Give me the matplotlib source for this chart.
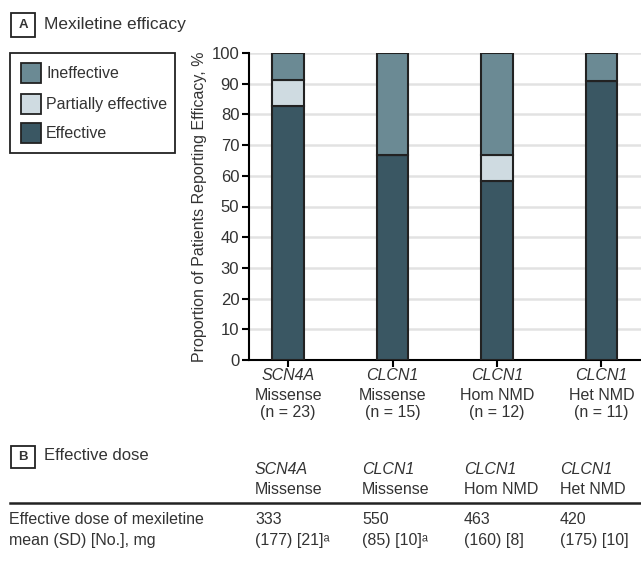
import matplotlib
matplotlib.use('Agg')
import matplotlib.pyplot as plt
from matplotlib.patches import Rectangle

plt.rcParams['font.family'] = ['Liberation Sans', 'DejaVu Sans']

# Data
genes = ['SCN4A', 'CLCN1', 'CLCN1', 'CLCN1']
groups = ['Missense', 'Missense', 'Hom NMD', 'Het NMD']
n_pat = [23, 15, 12, 11]
effective = [82.6, 66.7, 58.3, 90.9]
partial = [8.7, 0.0, 8.4, 0.0]
ineffective = [8.7, 33.3, 33.3, 9.1]

dose_mean = ['333', '550', '463', '420']
dose_detail = ['(177) [21]ᵃ', '(85) [10]ᵃ', '(160) [8]', '(175) [10]']

c_eff = '#3a5763'
c_part = '#cfdbe1'
c_ineff = '#6b8a94'
edge = '#222222'
txt = '#333333'

W, H = 641, 566
fig = plt.figure(figsize=(W / 100, H / 100), dpi=100)


def fx(x):
    return x / W


def fy(y):
    return 1 - y / H


ax = fig.add_axes([fx(249), fy(360), fx(641) - fx(249), fy(53) - fy(360)])
x = range(len(effective))
bw = 0.3
ax.bar(x, effective, bw, color=c_eff, edgecolor=edge, linewidth=1.5, zorder=3)
ax.bar(x, partial, bw, bottom=effective, color=c_part, edgecolor=edge, linewidth=1.5, zorder=3)
bottom3 = [e + p for e, p in zip(effective, partial)]
ax.bar(x, ineffective, bw, bottom=bottom3, color=c_ineff, edgecolor=edge, linewidth=1.5, zorder=3)

ax.set_xlim(-0.375, 3.38)
ax.set_ylim(0, 100)
ax.set_yticks(range(0, 101, 10))
ax.yaxis.grid(True, color='#e2e2e2', linewidth=1.8, zorder=0)
ax.set_axisbelow(True)
for s in ['top', 'right']:
    ax.spines[s].set_visible(False)
ax.spines['left'].set_linewidth(1.5)
ax.spines['bottom'].set_linewidth(1.5)
ax.tick_params(axis='y', length=5, width=1.5, labelsize=12, labelcolor=txt, pad=2)
ax.set_xticks(list(x))
ax.set_xticklabels([''] * 4)
ax.tick_params(axis='x', length=5, width=1.5)
ax.set_ylabel('Proportion of Patients Reporting Efficacy, %', fontsize=11.5, color=txt, labelpad=3)

for i in x:
    ax.annotate(genes[i], (i, 0), xytext=(0, -6), textcoords='offset points',
                ha='center', va='top', fontsize=11.5, style='italic', color=txt)
    ax.annotate(groups[i] + '\n(n = %d)' % n_pat[i], (i, 0), xytext=(0, -20.5),
                textcoords='offset points', ha='center', va='top', fontsize=11.5,
                color=txt, linespacing=1.1)

# Panel A header
fig.patches.append(Rectangle((fx(11), fy(37)), fx(24), fy(13) - fy(37), transform=fig.transFigure,
                             fill=False, edgecolor=edge, linewidth=1.3))
fig.text(fx(23), fy(25), 'A', ha='center', va='center', fontsize=9.5, weight='bold', color=txt)
fig.text(fx(44), fy(25), 'Mexiletine efficacy', ha='left', va='center', fontsize=12.5, color=txt)

# Legend
fig.patches.append(Rectangle((fx(10), fy(153)), fx(175) - fx(10), fy(53) - fy(153),
                             transform=fig.transFigure, fill=False, edgecolor=edge, linewidth=1.3))
for lab, col, yy in [('Ineffective', c_ineff, 73), ('Partially effective', c_part, 104),
                     ('Effective', c_eff, 133)]:
    fig.patches.append(Rectangle((fx(21), fy(yy + 10)), fx(20), fy(yy - 10) - fy(yy + 10),
                                 transform=fig.transFigure, facecolor=col, edgecolor=edge,
                                 linewidth=1.3))
    fig.text(fx(46), fy(yy), lab, ha='left', va='center', fontsize=11.5, color=txt)

# Panel B
fig.patches.append(Rectangle((fx(11), fy(468)), fx(24), fy(446) - fy(468), transform=fig.transFigure,
                             fill=False, edgecolor=edge, linewidth=1.3))
fig.text(fx(23), fy(457), 'B', ha='center', va='center', fontsize=9.5, weight='bold', color=txt)
fig.text(fx(44), fy(455), 'Effective dose', ha='left', va='center', fontsize=12, color=txt)

col_x = [255, 362, 464, 560]
for i in range(4):
    fig.text(fx(col_x[i]), fy(469), genes[i], ha='left', va='center', fontsize=11.5,
             style='italic', color=txt)
    fig.text(fx(col_x[i]), fy(490), groups[i], ha='left', va='center', fontsize=11.5, color=txt)
    fig.text(fx(col_x[i]), fy(520), dose_mean[i], ha='left', va='center', fontsize=11.5, color=txt)
    fig.text(fx(col_x[i]), fy(541), dose_detail[i], ha='left', va='center', fontsize=11.5, color=txt)

fig.add_artist(plt.Line2D([fx(10), 1], [fy(503), fy(503)], transform=fig.transFigure,
                          color=edge, linewidth=1.8))
fig.text(fx(9), fy(520), 'Effective dose of mexiletine', ha='left', va='center',
         fontsize=11.5, color=txt)
fig.text(fx(9), fy(541), 'mean (SD) [No.], mg', ha='left', va='center', fontsize=11.5, color=txt)

fig.savefig('out.png', dpi=100)
